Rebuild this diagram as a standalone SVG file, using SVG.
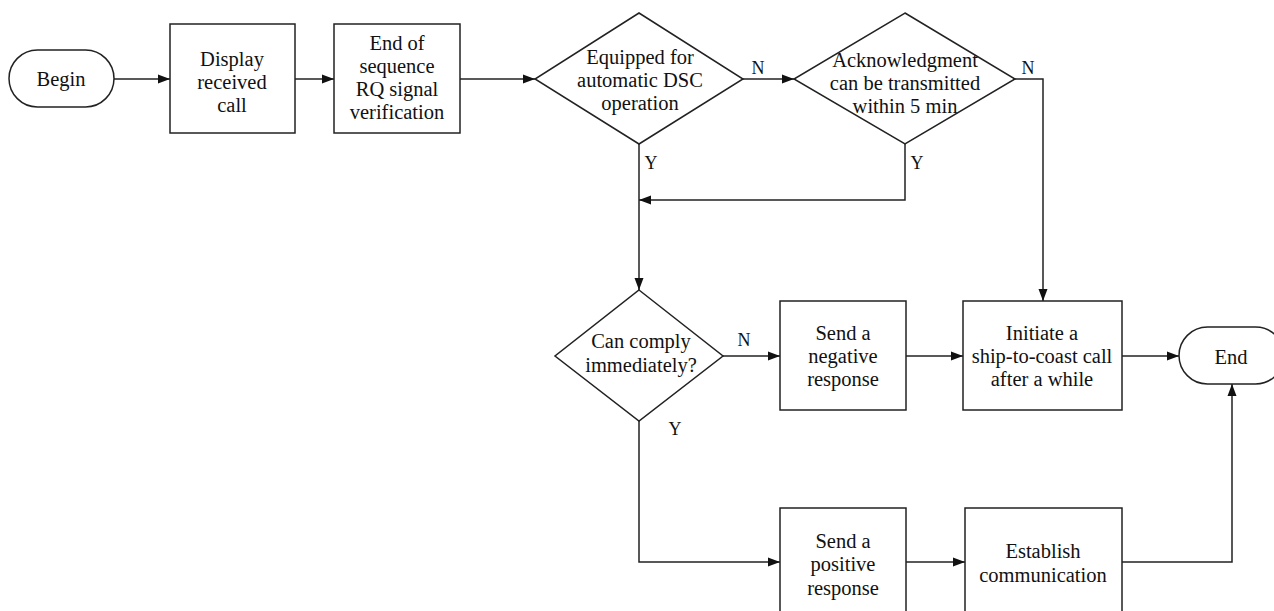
<svg xmlns="http://www.w3.org/2000/svg" width="1274" height="611" viewBox="0 0 1274 611">
<defs>
<style>
.s{fill:#fff;stroke:#222;stroke-width:1.5}
.c{fill:none;stroke:#222;stroke-width:1.5}
text{font-family:"Liberation Serif","Times New Roman",serif;font-size:20.5px;fill:#111;text-anchor:middle}
.l{font-size:18px}
</style>
<marker id="a" viewBox="0 0 12 10" refX="12" refY="5" markerWidth="12" markerHeight="10" markerUnits="userSpaceOnUse" orient="auto">
<path d="M0,0.5 L12,5 L0,9.5 Z" fill="#111"/>
</marker>
</defs>
<rect width="1274" height="611" fill="#fff"/>
<g id="connectors">
<path class="c" d="M114,79 H170" marker-end="url(#a)"/>
<path class="c" d="M295,79 H334" marker-end="url(#a)"/>
<path class="c" d="M460,79 H535" marker-end="url(#a)"/>
<path class="c" d="M743,79 H794" marker-end="url(#a)"/>
<path class="c" d="M1015,79 H1043 V301" marker-end="url(#a)"/>
<path class="c" d="M905,144 V200 H639" marker-end="url(#a)"/>
<path class="c" d="M639,144 V290" marker-end="url(#a)"/>
<path class="c" d="M723,356 H780" marker-end="url(#a)"/>
<path class="c" d="M906,356 H963" marker-end="url(#a)"/>
<path class="c" d="M1122,356 H1179" marker-end="url(#a)"/>
<path class="c" d="M639,421 V562 H780" marker-end="url(#a)"/>
<path class="c" d="M906,562 H965" marker-end="url(#a)"/>
<path class="c" d="M1122,562 H1232 V384" marker-end="url(#a)"/>
<text class="l" x="758" y="74">N</text>
<text class="l" x="1028" y="74">N</text>
<text class="l" x="651" y="169">Y</text>
<text class="l" x="917" y="169">Y</text>
<text class="l" x="744" y="346">N</text>
<text class="l" x="675" y="435">Y</text>
</g>
<g id="begin">
<rect class="s" x="9" y="50" width="105" height="57" rx="28.5"/>
<text x="61" y="86">Begin</text>
</g>
<g id="display">
<rect class="s" x="170" y="24" width="125" height="109"/>
<text x="232" y="66">Display</text>
<text x="232" y="89">received</text>
<text x="232" y="112">call</text>
</g>
<g id="verify">
<rect class="s" x="334" y="24" width="126" height="109"/>
<text x="397" y="50">End of</text>
<text x="397" y="73">sequence</text>
<text x="397" y="96">RQ signal</text>
<text x="397" y="119">verification</text>
</g>
<g id="equipped">
<polygon class="s" points="639,13 743,79 639,144 535,79"/>
<text x="640" y="64">Equipped for</text>
<text x="640" y="87">automatic DSC</text>
<text x="640" y="110">operation</text>
</g>
<g id="ack">
<polygon class="s" points="905,13 1015,79 905,144 794,79"/>
<text x="905" y="67">Acknowledgment</text>
<text x="905" y="90">can be transmitted</text>
<text x="905" y="113">within 5 min</text>
</g>
<g id="comply">
<polygon class="s" points="639,290 723,356 639,421 555,356"/>
<text x="641" y="348">Can comply</text>
<text x="641" y="372">immediately?</text>
</g>
<g id="negative">
<rect class="s" x="780" y="301" width="126" height="109"/>
<text x="843" y="340">Send a</text>
<text x="843" y="363">negative</text>
<text x="843" y="386">response</text>
</g>
<g id="initiate">
<rect class="s" x="963" y="301" width="159" height="109"/>
<text x="1042" y="340">Initiate a</text>
<text x="1042" y="363">ship-to-coast call</text>
<text x="1042" y="386">after a while</text>
</g>
<g id="end">
<rect class="s" x="1179" y="327" width="105" height="57" rx="28.5"/>
<text x="1231" y="364">End</text>
</g>
<g id="positive">
<rect class="s" x="780" y="508" width="126" height="109"/>
<text x="843" y="548">Send a</text>
<text x="843" y="571">positive</text>
<text x="843" y="595">response</text>
</g>
<g id="establish">
<rect class="s" x="965" y="508" width="157" height="109"/>
<text x="1043" y="558">Establish</text>
<text x="1043" y="582">communication</text>
</g>
</svg>
